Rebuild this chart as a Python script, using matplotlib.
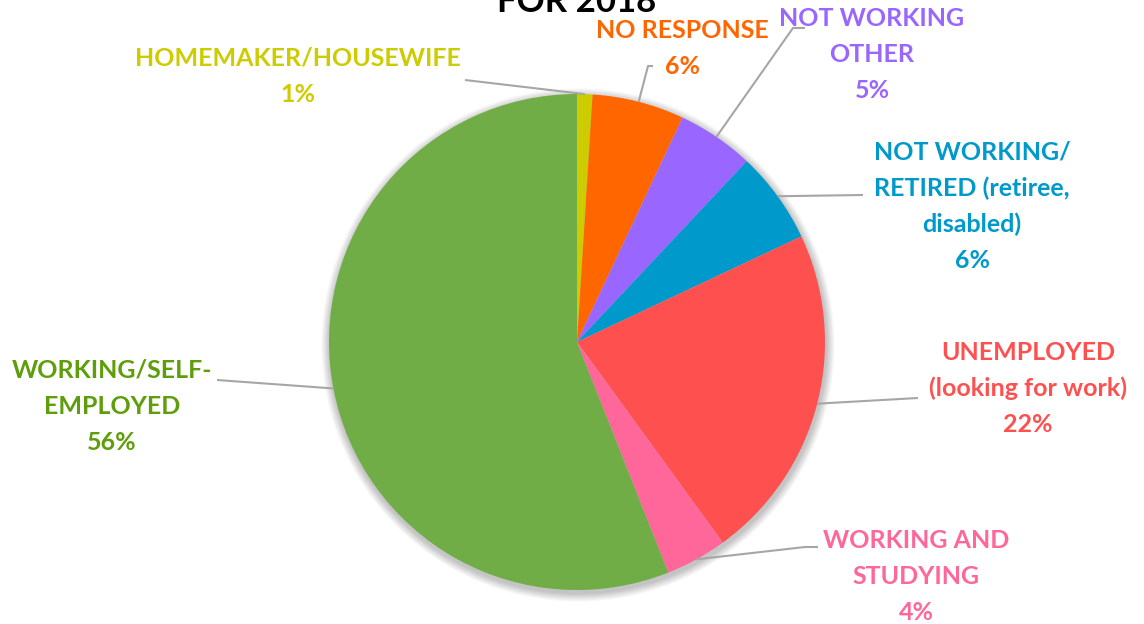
import numpy as np
import matplotlib
matplotlib.use("Agg")
import matplotlib.pyplot as plt
from matplotlib.patches import Circle

# Employment status shares (%), clockwise from 12 o'clock
categories = [
    "HOMEMAKER/HOUSEWIFE",
    "NO RESPONSE",
    "NOT WORKING\nOTHER",
    "NOT WORKING/\nRETIRED (retiree,\ndisabled)",
    "UNEMPLOYED\n(looking for work)",
    "WORKING AND\nSTUDYING",
    "WORKING/SELF-\nEMPLOYED",
]
values = [1, 6, 5, 6, 22, 4, 56]
slice_colors = ["#CCCC00", "#FF6600", "#9966FF", "#0099CC", "#FF5050", "#FF6699", "#70AD47"]
label_colors = ["#CCCC00", "#FF6600", "#9966FF", "#0099CC", "#FF5050", "#FF6699", "#5E9E0A"]

W, H = 1144, 624
fig = plt.figure(figsize=(W / 100, H / 100), dpi=100)
ax = fig.add_axes([0, 0, 1, 1])

cx, cy, r = 577, H - 342, 248

# soft drop shadow behind the pie
for i in range(12):
    ax.add_patch(Circle((cx + 1, cy - 3), r + 1 + i * 0.7, color="black",
                        alpha=0.018, lw=0, zorder=0))

wedges, _ = ax.pie(values, colors=slice_colors, startangle=90, counterclock=False,
                   center=(cx, cy), radius=r, frame=True,
                   wedgeprops=dict(linewidth=0))
ax.set_xlim(0, W)
ax.set_ylim(0, H)
ax.set_aspect("equal")
ax.axis("off")

# label text center (x, first-line y) and leader line start, in pixels from top-left
label_pos = [(298, 58), (682, 30), (872, 18), (972, 152), (1028, 352), (916, 540), (112, 370)]
leader_pts = [
    [(465, 80)],
    [(653, 66), (648, 66)],
    [(805, 28), (793, 28)],
    [(863, 195)],
    [(918, 398)],
    [(818, 547), (805, 547)],
    [(217, 380)],
]

line_h = 36
for w, cat, val, col, (tx, ty), pts in zip(wedges, categories, values, label_colors,
                                              label_pos, leader_pts):
    lines = f"{cat}\n{val}%".split("\n")
    for k, ln in enumerate(lines):
        ax.text(tx, H - (ty + k * line_h), ln, ha="center", va="center", color=col,
                fontsize=18, fontweight="bold", family="Lato")
    mid = np.deg2rad((w.theta1 + w.theta2) / 2)
    ex, ey = cx + r * np.cos(mid), cy + r * np.sin(mid)
    xs = [p[0] for p in pts] + [ex]
    ys = [H - p[1] for p in pts] + [ey]
    ax.plot(xs, ys, color="#A6A6A6", lw=1.5, zorder=1, solid_capstyle="butt")

ax.text(577, H - 2, "FOR 2018", ha="center", va="center", fontsize=25,
        fontweight="bold", family="Lato", color="black")

fig.savefig("out.png", dpi=100)
